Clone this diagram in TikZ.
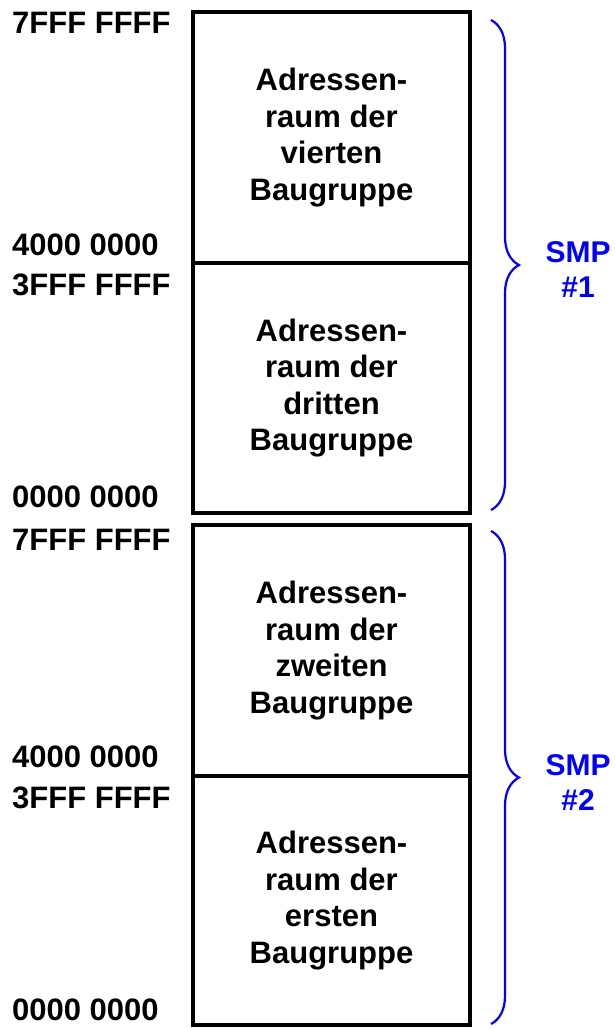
\documentclass[tikz,border=0pt]{standalone}
\usepackage{fontspec}
\setmainfont{Liberation Sans}
\usepackage{tikz}
\usetikzlibrary{positioning,decorations.pathreplacing,calc}

\tikzset{
  area/.style={draw, line width=4pt, minimum width=277pt, inner sep=0pt,
    align=center, font=\bfseries\fontsize{31}{36.5}\selectfont},
  addr/.style={anchor=west, inner sep=0pt, font=\bfseries\fontsize{31}{32}\selectfont},
  smpbrace/.style={draw=blue, line width=2.2pt,
    decorate, decoration={brace, amplitude=28pt}},
  smp/.style={text=blue, align=center, inner sep=0pt,
    font=\bfseries\fontsize{30}{35}\selectfont}
}

\begin{document}
\begin{tikzpicture}[x=1pt,y=-1pt]
  \useasboundingbox (0,0) rectangle (614,1028);

  \node[area, minimum height=251pt] (vierte) at (331.5,137.5)
    {Adressen-\\raum der\\vierten\\Baugruppe};
  \node[area, minimum height=250pt] (dritte) at (331.5,388)
    {Adressen-\\raum der\\dritten\\Baugruppe};
  \node[area, minimum height=251pt] (zweite) at (331.5,650.5)
    {Adressen-\\raum der\\zweiten\\Baugruppe};
  \node[area, minimum height=249pt] (erste) at (331.5,900.5)
    {Adressen-\\raum der\\ersten\\Baugruppe};

  \node[addr] (top1) at (12,23) {7FFF FFFF};
  \node[addr] (mid1a) at (12,245) {4000 0000};
  \node[addr] (mid1b) at (12,285) {3FFF FFFF};
  \node[addr] (bot1) at (12,497) {0000 0000};
  \node[addr] (top2) at (12,540) {7FFF FFFF};
  \node[addr] (mid2a) at (12,757) {4000 0000};
  \node[addr] (mid2b) at (12,798) {3FFF FFFF};
  \node[addr] (bot2) at (12,1010) {0000 0000};

  \coordinate (b1top) at (491,20);
  \coordinate (b1bot) at (491,510);
  \coordinate (b2top) at (491,531);
  \coordinate (b2bot) at (491,1024);
  \draw[smpbrace] (b1top) -- (b1bot);
  \draw[smpbrace] (b2top) -- (b2bot);

  \node[smp] (smp1) at (578,270) {SMP\\\#1};
  \node[smp] (smp2) at (578,783) {SMP\\\#2};
\end{tikzpicture}
\end{document}
